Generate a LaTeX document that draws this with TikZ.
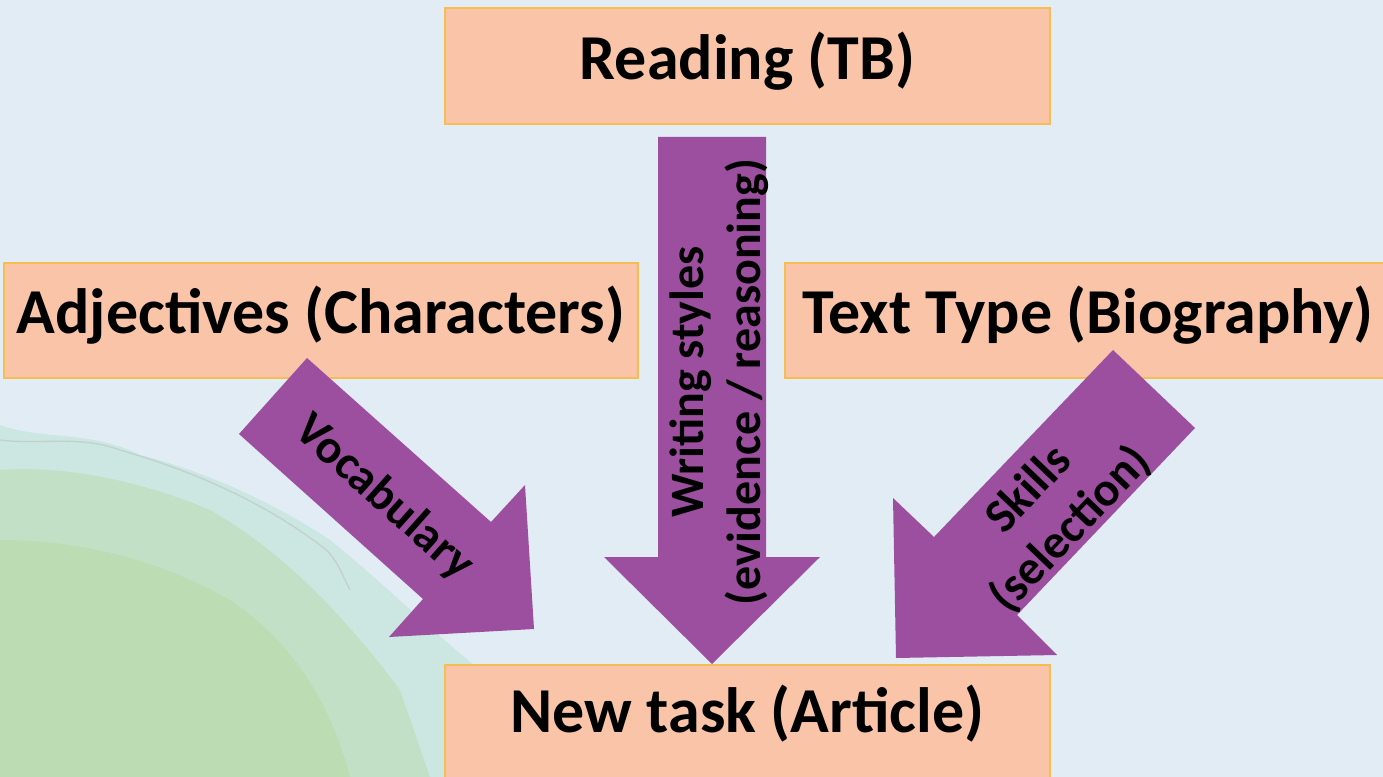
\documentclass[tikz,border=0pt]{standalone}
\usepackage{fontspec}
\setmainfont{Carlito}
\definecolor{bgblue}{RGB}{225,236,245}
\definecolor{peach}{RGB}{249,196,168}
\definecolor{boxedge}{RGB}{246,190,80}
\definecolor{arrowpurple}{RGB}{156,79,158}
\definecolor{leafgreen}{RGB}{184,218,162}
\definecolor{teal}{RGB}{196,228,218}
\tikzset{
  box/.style={draw=boxedge, line width=1.2pt, fill=peach, inner sep=0pt},
  boxtext/.style={font=\fontsize{48}{58}\selectfont\bfseries, text=black, inner sep=0pt},
  blockarrow/.style={fill=arrowpurple, draw=none},
  arrowtext/.style={font=\fontsize{36}{43}\selectfont\bfseries, text=black, align=center, inner sep=0pt}
}
\begin{document}
\begin{tikzpicture}[x=0.75pt,y=-0.75pt]
\useasboundingbox (0,0) rectangle (1383,777);
\clip (0,0) rectangle (1383,777);
% background
\fill[bgblue] (0,0) rectangle (1383,777);
% watercolor area (bottom left)
\fill[teal, opacity=0.7] (0,425) .. controls (40,440) and (90,430) .. (140,455)
  .. controls (200,470) and (270,500) .. (330,540)
  .. controls (380,580) and (430,630) .. (480,670)
  -- (480,777) -- (0,777) -- cycle;
\fill[leafgreen, opacity=0.45] (0,470) .. controls (60,465) and (140,480) .. (210,510)
  .. controls (280,550) and (340,610) .. (400,690)
  -- (430,777) -- (0,777) -- cycle;
\fill[leafgreen, opacity=0.5] (0,540) .. controls (80,540) and (160,560) .. (230,600)
  .. controls (290,640) and (330,700) .. (350,777)
  -- (0,777) -- cycle;
\draw[gray!60, line width=1pt, opacity=0.4] (0,440) .. controls (40,445) and (80,435) .. (120,450)
  .. controls (190,470) and (260,500) .. (320,545) .. controls (335,555) and (340,570) .. (350,590);
% boxes
\node[box, minimum width=605*0.75pt, minimum height=116*0.75pt] (reading) at (747.5,66) {};
\node[boxtext] (readingtext) at (747.5,61) {Reading (TB)};
\node[box, minimum width=634*0.75pt, minimum height=115*0.75pt] (adj) at (321,320.5) {};
\node[boxtext] (adjtext) at (321,315) {Adjectives (Characters)};
\node[box, minimum width=605*0.75pt, minimum height=115*0.75pt] (ttype) at (1087.5,320.5) {};
\node[boxtext] (ttypetext) at (1088,315) {Text Type (Biography)};
\node[box, minimum width=605*0.75pt, minimum height=116*0.75pt] (newtask) at (747.5,723) {};
\node[boxtext] (newtasktext) at (747.5,714) {New task (Article)};
% block arrows
\fill[blockarrow] (658,137) -- (766,137) -- (766,557) -- (820,557) -- (712,664) -- (604,557) -- (658,557) -- cycle;
\fill[blockarrow] (307,358) -- (491,522) -- (525,485) -- (534,629) -- (389,637) -- (423,599) -- (239,434) -- cycle;
\fill[blockarrow] (1113,350) -- (1195,428) -- (1017,615) -- (1057,655) -- (896,658) -- (893,498) -- (934,537) -- cycle;
% arrow labels
\node[arrowtext, rotate=90] (writing) at (719,382) {Writing styles\\(evidence / reasoning)};
\node[arrowtext, rotate=-41.7] (vocab) at (384,498) {Vocabulary};
\node[arrowtext, rotate=46.3] (skills) at (1050,510) {Skills\\(selection)};
\end{tikzpicture}
\end{document}
